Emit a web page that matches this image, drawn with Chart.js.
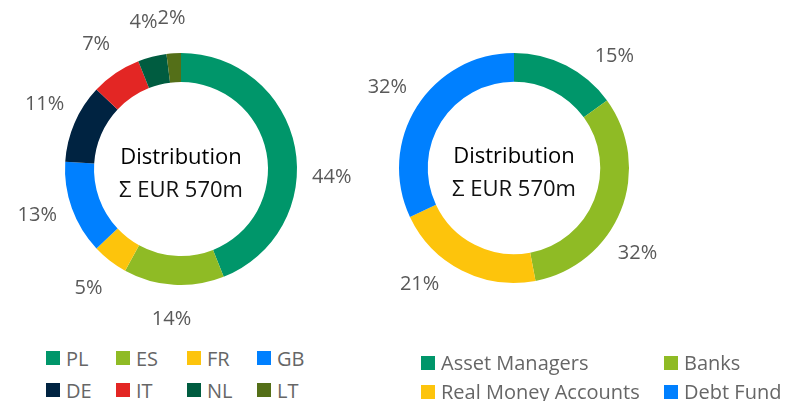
<!DOCTYPE html>
<html>
<head>
<meta charset="utf-8">
<script src="https://cdn.jsdelivr.net/npm/chart.js@4/dist/chart.umd.min.js"></script>
<style>
  body { margin: 0; background: #fff; font-family: "Open Sans", sans-serif; }
  #wrap { position: relative; width: 786px; height: 401px; overflow: hidden; }
  #left { position: absolute; left: 0; top: 0; width: 390px; height: 340px; }
  #right { position: absolute; left: 340px; top: 0; width: 446px; height: 340px; }
  .legend { position: absolute; display: grid; color: #666; font-size: 20px; }
  .legend div { display: flex; align-items: center; white-space: nowrap; height: 32px; }
  .legend span { display: inline-block; width: 14px; height: 14px; margin-right: 6px; }
  #legendLeft { left: 46px; top: 342px; grid-template-columns: 70px 71px 70px 70px; }
  #legendRight { left: 421px; top: 348px; grid-template-columns: 243px 120px; }
  #legendRight div { height: 29px; }
</style>
</head>
<body>
<div id="wrap">
  <canvas id="left" width="390" height="340"></canvas>
  <canvas id="right" width="446" height="340"></canvas>
  <div class="legend" id="legendLeft"></div>
  <div class="legend" id="legendRight"></div>
</div>
<script>
const countries = ['PL', 'ES', 'FR', 'GB', 'DE', 'IT', 'NL', 'LT']
const countryShares = [44, 14, 5, 13, 11, 7, 4, 2]
const countryColors = ['#00966a', '#8fbb25', '#fdc40c', '#0080ff', '#002341', '#e32624', '#005c40', '#546f18']

const investors = ['Asset Managers', 'Banks', 'Real Money Accounts', 'Debt Fund']
const investorShares = [15, 32, 21, 32]
const investorColors = ['#00966a', '#8fbb25', '#fdc40c', '#0080ff']

const centerTitle = 'Distribution'
const centerTotal = 'Σ EUR 570m'

// percentage labels outside the ring + text in the hole
const donutText = {
  id: 'donutText',
  afterDraw(chart, args, opts) {
    const ctx = chart.ctx
    const meta = chart.getDatasetMeta(0)
    const values = chart.data.datasets[0].data
    const shift = opts.shift || []
    ctx.save()
    ctx.textAlign = 'center'
    ctx.textBaseline = 'middle'
    ctx.font = '20px "Open Sans"'
    ctx.fillStyle = '#595959'
    meta.data.forEach((arc, i) => {
      const p = arc.getProps(['x', 'y', 'startAngle', 'endAngle', 'outerRadius'], true)
      // excel "best fit" nudges some labels round the ring
      const mid = (p.startAngle + p.endAngle) / 2 + (shift[i] || 0) * Math.PI / 180
      const r = p.outerRadius + 35
      ctx.fillText(values[i] + '%', p.x + Math.cos(mid) * r, p.y + Math.sin(mid) * r)
    })
    const c = meta.data[0]
    ctx.fillStyle = '#000'
    ctx.font = '22px "Open Sans"'
    ctx.fillText(centerTitle, c.x, c.y - 11)
    ctx.fillStyle = '#111'
    ctx.fillText(centerTotal, c.x, c.y + 22)
    ctx.restore()
  }
}

function makeDonut(id, labels, values, colors, padding, shift) {
  return new Chart(document.getElementById(id), {
    type: 'doughnut',
    data: {
      labels: labels,
      datasets: [{
        data: values,
        backgroundColor: colors,
        borderWidth: 0
      }]
    },
    options: {
      responsive: false,
      animation: false,
      cutout: '75%',
      layout: { padding: padding },
      plugins: {
        legend: { display: false },
        tooltip: { enabled: false },
        donutText: { shift: shift }
      }
    },
    plugins: [donutText]
  })
}

makeDonut('left', countries, countryShares, countryColors,
  { left: 65, right: 93, top: 53, bottom: 55 }, [14, 0, 0, 2, 2, 0, 0, 0])
makeDonut('right', investors, investorShares, investorColors,
  { left: 59, right: 157, top: 53, bottom: 57 }, [15, 13, 12, 0])

function buildLegend(id, labels, colors) {
  const el = document.getElementById(id)
  labels.forEach((label, i) => {
    const item = document.createElement('div')
    const box = document.createElement('span')
    box.style.background = colors[i]
    item.appendChild(box)
    item.appendChild(document.createTextNode(label))
    el.appendChild(item)
  })
}

buildLegend('legendLeft', countries, countryColors)
buildLegend('legendRight', investors, investorColors)
</script>
</body>
</html>
